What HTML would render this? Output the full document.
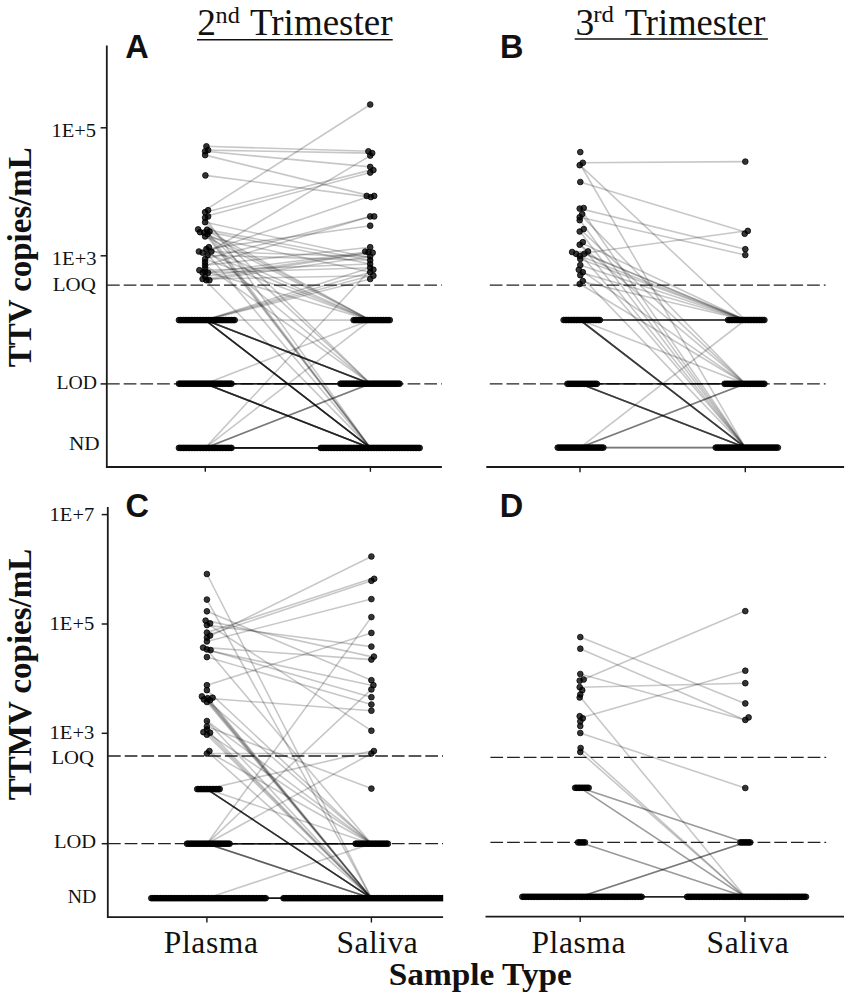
<!DOCTYPE html>
<html><head><meta charset="utf-8"><title>Figure</title>
<style>
html,body{margin:0;padding:0;background:#fff;}
body{width:851px;height:1000px;overflow:hidden;font-family:"Liberation Serif",serif;}
svg{display:block;}
text{fill:#111;}
</style></head><body>
<svg width="851" height="1000" viewBox="0 0 851 1000">
<rect width="851" height="1000" fill="#ffffff"/>
<g>
<line x1="106.8" y1="45.5" x2="106.8" y2="467.9" stroke="#1a1a1a" stroke-width="1.8"/>
<line x1="106" y1="467.0" x2="441.9" y2="467.0" stroke="#1a1a1a" stroke-width="1.8"/>
<line x1="205.3" y1="466.8" x2="205.3" y2="471.8" stroke="#1a1a1a" stroke-width="1.4"/>
<line x1="370.4" y1="466.8" x2="370.4" y2="471.8" stroke="#1a1a1a" stroke-width="1.4"/>
<line x1="100.6" y1="127.8" x2="106.8" y2="127.8" stroke="#1a1a1a" stroke-width="1.5"/>
<line x1="100.6" y1="255.8" x2="106.8" y2="255.8" stroke="#1a1a1a" stroke-width="1.5"/>
<line x1="100.6" y1="383.9" x2="106.8" y2="383.9" stroke="#1a1a1a" stroke-width="1.5"/>
<line x1="486.3" y1="467.0" x2="844.1" y2="467.0" stroke="#1a1a1a" stroke-width="1.8"/>
<line x1="580" y1="467.2" x2="580" y2="472.2" stroke="#1a1a1a" stroke-width="1.4"/>
<line x1="745.3" y1="467.2" x2="745.3" y2="472.2" stroke="#1a1a1a" stroke-width="1.4"/>
<line x1="107.8" y1="507.1" x2="107.8" y2="918.0" stroke="#1a1a1a" stroke-width="1.8"/>
<line x1="107" y1="917.1" x2="443.1" y2="917.1" stroke="#1a1a1a" stroke-width="1.8"/>
<line x1="206.9" y1="917.1" x2="206.9" y2="922.5" stroke="#1a1a1a" stroke-width="1.4"/>
<line x1="371.4" y1="917.1" x2="371.4" y2="922.5" stroke="#1a1a1a" stroke-width="1.4"/>
<line x1="101.7" y1="514.6" x2="107.8" y2="514.6" stroke="#1a1a1a" stroke-width="1.5"/>
<line x1="101.7" y1="624.0" x2="107.8" y2="624.0" stroke="#1a1a1a" stroke-width="1.5"/>
<line x1="101.7" y1="733.3" x2="107.8" y2="733.3" stroke="#1a1a1a" stroke-width="1.5"/>
<line x1="101.7" y1="843.7" x2="107.8" y2="843.7" stroke="#1a1a1a" stroke-width="1.5"/>
<line x1="485.5" y1="916.6" x2="844" y2="916.6" stroke="#1a1a1a" stroke-width="1.8"/>
<line x1="580.2" y1="916.6" x2="580.2" y2="922" stroke="#1a1a1a" stroke-width="1.4"/>
<line x1="745.0" y1="916.6" x2="745.0" y2="922" stroke="#1a1a1a" stroke-width="1.4"/>
<line x1="107" y1="285.1" x2="441.8" y2="285.1" stroke="#222" stroke-width="1.3" stroke-dasharray="12.7 4.0"/>
<line x1="107" y1="383.8" x2="441.8" y2="383.8" stroke="#222" stroke-width="1.3" stroke-dasharray="12.7 4.0"/>
<line x1="489.8" y1="285.2" x2="825.6" y2="285.2" stroke="#222" stroke-width="1.3" stroke-dasharray="12.7 4.0"/>
<line x1="489.8" y1="383.8" x2="825.6" y2="383.8" stroke="#222" stroke-width="1.3" stroke-dasharray="12.7 4.0"/>
<line x1="108" y1="756.0" x2="443" y2="756.0" stroke="#222" stroke-width="1.3" stroke-dasharray="12.7 4.0"/>
<line x1="108" y1="843.6" x2="443" y2="843.6" stroke="#222" stroke-width="1.3" stroke-dasharray="12.7 4.0"/>
<line x1="490.4" y1="757.3" x2="826.2" y2="757.3" stroke="#222" stroke-width="1.3" stroke-dasharray="12.7 4.0"/>
<line x1="490.4" y1="842.4" x2="826.2" y2="842.4" stroke="#222" stroke-width="1.3" stroke-dasharray="12.7 4.0"/>
<line x1="197.0" y1="39.7" x2="392.7" y2="39.7" stroke="#111" stroke-width="1.6"/>
<line x1="574.7" y1="39.0" x2="767.9" y2="39.0" stroke="#111" stroke-width="1.6"/>
</g>
<g stroke="#000" stroke-opacity="0.22" stroke-width="1.6" stroke-linecap="round">
<line x1="205.3" y1="210.2" x2="370.4" y2="104.5"/>
<line x1="205.3" y1="146.3" x2="370.4" y2="151.3"/>
<line x1="205.3" y1="150.1" x2="370.4" y2="153.1"/>
<line x1="205.3" y1="254.0" x2="370.4" y2="155.6"/>
<line x1="205.3" y1="151.3" x2="370.4" y2="166.9"/>
<line x1="205.3" y1="212.2" x2="370.4" y2="170.1"/>
<line x1="205.3" y1="216.4" x2="370.4" y2="172.6"/>
<line x1="205.3" y1="155.1" x2="370.4" y2="195.9"/>
<line x1="205.3" y1="175.4" x2="370.4" y2="197.1"/>
<line x1="205.3" y1="252.0" x2="370.4" y2="195.9"/>
<line x1="205.3" y1="259.0" x2="370.4" y2="216.4"/>
<line x1="205.3" y1="265.2" x2="370.4" y2="216.4"/>
<line x1="205.3" y1="249.0" x2="370.4" y2="225.7"/>
<line x1="205.3" y1="265.2" x2="370.4" y2="247.2"/>
<line x1="205.3" y1="272.7" x2="370.4" y2="251.5"/>
<line x1="205.3" y1="276.5" x2="370.4" y2="252.2"/>
<line x1="205.3" y1="279.0" x2="370.4" y2="252.7"/>
<line x1="205.3" y1="280.2" x2="370.4" y2="256.5"/>
<line x1="205.3" y1="229.4" x2="370.4" y2="260.2"/>
<line x1="205.3" y1="231.4" x2="370.4" y2="264.0"/>
<line x1="205.3" y1="236.4" x2="370.4" y2="272.2"/>
<line x1="205.3" y1="320.1" x2="370.4" y2="267.7"/>
<line x1="205.3" y1="447.9" x2="370.4" y2="269.7"/>
<line x1="205.3" y1="320.1" x2="370.4" y2="272.2"/>
<line x1="205.3" y1="320.1" x2="370.4" y2="275.7"/>
<line x1="205.3" y1="320.1" x2="370.4" y2="279.0"/>
<line x1="205.3" y1="217.7" x2="370.4" y2="447.9"/>
<line x1="205.3" y1="229.4" x2="370.4" y2="447.9"/>
<line x1="205.3" y1="232.2" x2="370.4" y2="447.9"/>
<line x1="205.3" y1="234.0" x2="370.4" y2="447.9"/>
<line x1="205.3" y1="251.5" x2="370.4" y2="447.9"/>
<line x1="205.3" y1="280.2" x2="370.4" y2="447.9"/>
<line x1="205.3" y1="231.4" x2="370.4" y2="383.7"/>
<line x1="205.3" y1="249.0" x2="370.4" y2="383.7"/>
<line x1="205.3" y1="265.2" x2="370.4" y2="383.7"/>
<line x1="205.3" y1="222.2" x2="370.4" y2="383.7"/>
<line x1="205.3" y1="229.7" x2="370.4" y2="320.1"/>
<line x1="205.3" y1="232.7" x2="370.4" y2="320.1"/>
<line x1="205.3" y1="236.4" x2="370.4" y2="320.1"/>
<line x1="205.3" y1="247.2" x2="370.4" y2="320.1"/>
<line x1="205.3" y1="252.7" x2="370.4" y2="320.1"/>
<line x1="205.3" y1="259.0" x2="370.4" y2="320.1"/>
<line x1="205.3" y1="271.5" x2="370.4" y2="320.1"/>
<line x1="205.3" y1="222.2" x2="370.4" y2="258.0"/>
<line x1="205.3" y1="270.2" x2="370.4" y2="264.0"/>
<line x1="205.3" y1="272.7" x2="370.4" y2="267.7"/>
<line x1="205.3" y1="279.0" x2="370.4" y2="275.7"/>
<line x1="205.3" y1="251.5" x2="370.4" y2="256.5"/>
<line x1="205.3" y1="255.2" x2="370.4" y2="260.2"/>
<line x1="205.3" y1="320.1" x2="370.4" y2="320.1"/>
<line x1="205.3" y1="320.1" x2="370.4" y2="383.7"/>
<line x1="205.3" y1="320.1" x2="370.4" y2="383.7"/>
<line x1="205.3" y1="320.1" x2="370.4" y2="383.7"/>
<line x1="205.3" y1="320.1" x2="370.4" y2="383.7"/>
<line x1="205.3" y1="320.1" x2="370.4" y2="383.7"/>
<line x1="205.3" y1="320.1" x2="370.4" y2="383.7"/>
<line x1="205.3" y1="320.1" x2="370.4" y2="383.7"/>
<line x1="205.3" y1="320.1" x2="370.4" y2="447.9"/>
<line x1="205.3" y1="320.1" x2="370.4" y2="447.9"/>
<line x1="205.3" y1="320.1" x2="370.4" y2="447.9"/>
<line x1="205.3" y1="320.1" x2="370.4" y2="447.9"/>
<line x1="205.3" y1="320.1" x2="370.4" y2="447.9"/>
<line x1="205.3" y1="320.1" x2="370.4" y2="447.9"/>
<line x1="205.3" y1="320.1" x2="370.4" y2="447.9"/>
<line x1="205.3" y1="320.1" x2="370.4" y2="447.9"/>
<line x1="205.3" y1="383.7" x2="370.4" y2="320.1"/>
<line x1="205.3" y1="383.7" x2="370.4" y2="383.7"/>
<line x1="205.3" y1="383.7" x2="370.4" y2="383.7"/>
<line x1="205.3" y1="383.7" x2="370.4" y2="383.7"/>
<line x1="205.3" y1="383.7" x2="370.4" y2="383.7"/>
<line x1="205.3" y1="383.7" x2="370.4" y2="383.7"/>
<line x1="205.3" y1="383.7" x2="370.4" y2="383.7"/>
<line x1="205.3" y1="383.7" x2="370.4" y2="383.7"/>
<line x1="205.3" y1="383.7" x2="370.4" y2="383.7"/>
<line x1="205.3" y1="383.7" x2="370.4" y2="447.9"/>
<line x1="205.3" y1="383.7" x2="370.4" y2="447.9"/>
<line x1="205.3" y1="383.7" x2="370.4" y2="447.9"/>
<line x1="205.3" y1="383.7" x2="370.4" y2="447.9"/>
<line x1="205.3" y1="383.7" x2="370.4" y2="447.9"/>
<line x1="205.3" y1="383.7" x2="370.4" y2="447.9"/>
<line x1="205.3" y1="383.7" x2="370.4" y2="447.9"/>
<line x1="205.3" y1="383.7" x2="370.4" y2="447.9"/>
<line x1="205.3" y1="447.9" x2="370.4" y2="320.1"/>
<line x1="205.3" y1="447.9" x2="370.4" y2="383.7"/>
<line x1="205.3" y1="447.9" x2="370.4" y2="383.7"/>
<line x1="205.3" y1="447.9" x2="370.4" y2="383.7"/>
<line x1="205.3" y1="447.9" x2="370.4" y2="447.9"/>
<line x1="205.3" y1="447.9" x2="370.4" y2="447.9"/>
<line x1="205.3" y1="447.9" x2="370.4" y2="447.9"/>
<line x1="205.3" y1="447.9" x2="370.4" y2="447.9"/>
<line x1="205.3" y1="447.9" x2="370.4" y2="447.9"/>
<line x1="205.3" y1="447.9" x2="370.4" y2="447.9"/>
<line x1="205.3" y1="447.9" x2="370.4" y2="447.9"/>
<line x1="205.3" y1="447.9" x2="370.4" y2="447.9"/>
<line x1="205.3" y1="447.9" x2="370.4" y2="447.9"/>
<line x1="205.3" y1="447.9" x2="370.4" y2="447.9"/>
<line x1="580.0" y1="162.8" x2="745.3" y2="161.6"/>
<line x1="580.0" y1="165.2" x2="745.3" y2="320.0"/>
<line x1="580.0" y1="164.0" x2="745.3" y2="447.6"/>
<line x1="580.0" y1="182.0" x2="745.3" y2="232.0"/>
<line x1="580.0" y1="208.6" x2="745.3" y2="249.2"/>
<line x1="580.0" y1="217.2" x2="745.3" y2="255.0"/>
<line x1="580.0" y1="253.8" x2="745.3" y2="231.0"/>
<line x1="580.0" y1="242.2" x2="745.3" y2="320.0"/>
<line x1="580.0" y1="251.4" x2="745.3" y2="320.0"/>
<line x1="580.0" y1="252.0" x2="745.3" y2="320.0"/>
<line x1="580.0" y1="256.0" x2="745.3" y2="320.0"/>
<line x1="580.0" y1="259.0" x2="745.3" y2="320.0"/>
<line x1="580.0" y1="265.1" x2="745.3" y2="320.0"/>
<line x1="580.0" y1="272.2" x2="745.3" y2="320.0"/>
<line x1="580.0" y1="281.0" x2="745.3" y2="320.0"/>
<line x1="580.0" y1="214.1" x2="745.3" y2="383.8"/>
<line x1="580.0" y1="229.1" x2="745.3" y2="383.8"/>
<line x1="580.0" y1="244.7" x2="745.3" y2="383.8"/>
<line x1="580.0" y1="269.7" x2="745.3" y2="383.8"/>
<line x1="580.0" y1="284.0" x2="745.3" y2="383.8"/>
<line x1="580.0" y1="208.0" x2="745.3" y2="447.6"/>
<line x1="580.0" y1="220.2" x2="745.3" y2="447.6"/>
<line x1="580.0" y1="231.5" x2="745.3" y2="447.6"/>
<line x1="580.0" y1="253.8" x2="745.3" y2="447.6"/>
<line x1="580.0" y1="275.2" x2="745.3" y2="447.6"/>
<line x1="580.0" y1="244.0" x2="745.3" y2="447.6"/>
<line x1="580.0" y1="320.0" x2="745.3" y2="320.0"/>
<line x1="580.0" y1="320.0" x2="745.3" y2="320.0"/>
<line x1="580.0" y1="320.0" x2="745.3" y2="320.0"/>
<line x1="580.0" y1="320.0" x2="745.3" y2="320.0"/>
<line x1="580.0" y1="320.0" x2="745.3" y2="320.0"/>
<line x1="580.0" y1="320.0" x2="745.3" y2="320.0"/>
<line x1="580.0" y1="320.0" x2="745.3" y2="320.0"/>
<line x1="580.0" y1="320.0" x2="745.3" y2="383.8"/>
<line x1="580.0" y1="320.0" x2="745.3" y2="447.6"/>
<line x1="580.0" y1="320.0" x2="745.3" y2="447.6"/>
<line x1="580.0" y1="320.0" x2="745.3" y2="447.6"/>
<line x1="580.0" y1="320.0" x2="745.3" y2="447.6"/>
<line x1="580.0" y1="320.0" x2="745.3" y2="447.6"/>
<line x1="580.0" y1="320.0" x2="745.3" y2="447.6"/>
<line x1="580.0" y1="383.8" x2="745.3" y2="383.8"/>
<line x1="580.0" y1="383.8" x2="745.3" y2="383.8"/>
<line x1="580.0" y1="383.8" x2="745.3" y2="383.8"/>
<line x1="580.0" y1="383.8" x2="745.3" y2="383.8"/>
<line x1="580.0" y1="383.8" x2="745.3" y2="383.8"/>
<line x1="580.0" y1="383.8" x2="745.3" y2="383.8"/>
<line x1="580.0" y1="383.8" x2="745.3" y2="383.8"/>
<line x1="580.0" y1="383.8" x2="745.3" y2="447.6"/>
<line x1="580.0" y1="383.8" x2="745.3" y2="447.6"/>
<line x1="580.0" y1="383.8" x2="745.3" y2="447.6"/>
<line x1="580.0" y1="383.8" x2="745.3" y2="447.6"/>
<line x1="580.0" y1="383.8" x2="745.3" y2="447.6"/>
<line x1="580.0" y1="383.8" x2="745.3" y2="447.6"/>
<line x1="580.0" y1="447.6" x2="745.3" y2="320.0"/>
<line x1="580.0" y1="447.6" x2="745.3" y2="383.8"/>
<line x1="580.0" y1="447.6" x2="745.3" y2="383.8"/>
<line x1="580.0" y1="447.6" x2="745.3" y2="383.8"/>
<line x1="580.0" y1="447.6" x2="745.3" y2="447.6"/>
<line x1="580.0" y1="447.6" x2="745.3" y2="447.6"/>
<line x1="580.0" y1="447.6" x2="745.3" y2="447.6"/>
<line x1="206.9" y1="637.6" x2="371.4" y2="556.5"/>
<line x1="206.9" y1="632.6" x2="371.4" y2="578.8"/>
<line x1="206.9" y1="635.6" x2="371.4" y2="580.8"/>
<line x1="206.9" y1="641.4" x2="371.4" y2="599.1"/>
<line x1="206.9" y1="843.7" x2="371.4" y2="617.1"/>
<line x1="206.9" y1="685.2" x2="371.4" y2="632.9"/>
<line x1="206.9" y1="625.1" x2="371.4" y2="646.6"/>
<line x1="206.9" y1="620.6" x2="371.4" y2="656.6"/>
<line x1="206.9" y1="647.6" x2="371.4" y2="659.6"/>
<line x1="206.9" y1="611.3" x2="371.4" y2="680.2"/>
<line x1="206.9" y1="650.1" x2="371.4" y2="685.2"/>
<line x1="206.9" y1="843.7" x2="371.4" y2="689.4"/>
<line x1="206.9" y1="649.4" x2="371.4" y2="697.2"/>
<line x1="206.9" y1="657.1" x2="371.4" y2="704.5"/>
<line x1="206.9" y1="698.2" x2="371.4" y2="710.7"/>
<line x1="206.9" y1="623.4" x2="371.4" y2="730.7"/>
<line x1="206.9" y1="753.5" x2="371.4" y2="753.5"/>
<line x1="206.9" y1="789.1" x2="371.4" y2="751.0"/>
<line x1="206.9" y1="843.7" x2="371.4" y2="753.5"/>
<line x1="206.9" y1="726.5" x2="371.4" y2="788.6"/>
<line x1="206.9" y1="574.0" x2="371.4" y2="898.2"/>
<line x1="206.9" y1="599.6" x2="371.4" y2="898.2"/>
<line x1="206.9" y1="696.4" x2="371.4" y2="898.2"/>
<line x1="206.9" y1="699.4" x2="371.4" y2="898.2"/>
<line x1="206.9" y1="700.2" x2="371.4" y2="898.2"/>
<line x1="206.9" y1="702.0" x2="371.4" y2="898.2"/>
<line x1="206.9" y1="697.7" x2="371.4" y2="898.2"/>
<line x1="206.9" y1="721.0" x2="371.4" y2="898.2"/>
<line x1="206.9" y1="729.5" x2="371.4" y2="898.2"/>
<line x1="206.9" y1="732.2" x2="371.4" y2="898.2"/>
<line x1="206.9" y1="734.7" x2="371.4" y2="898.2"/>
<line x1="206.9" y1="751.0" x2="371.4" y2="898.2"/>
<line x1="206.9" y1="690.2" x2="371.4" y2="843.7"/>
<line x1="206.9" y1="732.7" x2="371.4" y2="843.7"/>
<line x1="206.9" y1="751.0" x2="371.4" y2="843.7"/>
<line x1="206.9" y1="721.0" x2="371.4" y2="843.7"/>
<line x1="206.9" y1="649.4" x2="371.4" y2="843.7"/>
<line x1="206.9" y1="700.2" x2="371.4" y2="843.7"/>
<line x1="206.9" y1="789.1" x2="371.4" y2="898.2"/>
<line x1="206.9" y1="789.1" x2="371.4" y2="898.2"/>
<line x1="206.9" y1="789.1" x2="371.4" y2="898.2"/>
<line x1="206.9" y1="789.1" x2="371.4" y2="898.2"/>
<line x1="206.9" y1="789.1" x2="371.4" y2="898.2"/>
<line x1="206.9" y1="789.1" x2="371.4" y2="898.2"/>
<line x1="206.9" y1="789.1" x2="371.4" y2="898.2"/>
<line x1="206.9" y1="789.1" x2="371.4" y2="843.7"/>
<line x1="206.9" y1="843.7" x2="371.4" y2="843.7"/>
<line x1="206.9" y1="843.7" x2="371.4" y2="843.7"/>
<line x1="206.9" y1="843.7" x2="371.4" y2="843.7"/>
<line x1="206.9" y1="843.7" x2="371.4" y2="843.7"/>
<line x1="206.9" y1="843.7" x2="371.4" y2="843.7"/>
<line x1="206.9" y1="843.7" x2="371.4" y2="843.7"/>
<line x1="206.9" y1="843.7" x2="371.4" y2="843.7"/>
<line x1="206.9" y1="843.7" x2="371.4" y2="843.7"/>
<line x1="206.9" y1="843.7" x2="371.4" y2="898.2"/>
<line x1="206.9" y1="843.7" x2="371.4" y2="898.2"/>
<line x1="206.9" y1="843.7" x2="371.4" y2="898.2"/>
<line x1="206.9" y1="843.7" x2="371.4" y2="898.2"/>
<line x1="206.9" y1="898.2" x2="371.4" y2="843.7"/>
<line x1="206.9" y1="898.2" x2="371.4" y2="898.2"/>
<line x1="206.9" y1="898.2" x2="371.4" y2="898.2"/>
<line x1="206.9" y1="898.2" x2="371.4" y2="898.2"/>
<line x1="206.9" y1="898.2" x2="371.4" y2="898.2"/>
<line x1="206.9" y1="898.2" x2="371.4" y2="898.2"/>
<line x1="206.9" y1="898.2" x2="371.4" y2="898.2"/>
<line x1="206.9" y1="898.2" x2="371.4" y2="898.2"/>
<line x1="206.9" y1="898.2" x2="371.4" y2="898.2"/>
<line x1="206.9" y1="898.2" x2="371.4" y2="898.2"/>
<line x1="206.9" y1="898.2" x2="371.4" y2="898.2"/>
<line x1="580.2" y1="637.1" x2="745.0" y2="703.4"/>
<line x1="580.2" y1="648.7" x2="745.0" y2="719.9"/>
<line x1="580.2" y1="674.0" x2="745.0" y2="719.9"/>
<line x1="580.2" y1="680.7" x2="745.0" y2="611.1"/>
<line x1="580.2" y1="687.2" x2="745.0" y2="683.2"/>
<line x1="580.2" y1="697.0" x2="745.0" y2="896.8"/>
<line x1="580.2" y1="718.0" x2="745.0" y2="670.7"/>
<line x1="580.2" y1="733.0" x2="745.0" y2="788.0"/>
<line x1="580.2" y1="748.0" x2="745.0" y2="896.8"/>
<line x1="580.2" y1="752.0" x2="745.0" y2="896.8"/>
<line x1="580.2" y1="787.8" x2="745.0" y2="842.4"/>
<line x1="580.2" y1="787.8" x2="745.0" y2="842.4"/>
<line x1="580.2" y1="787.8" x2="745.0" y2="896.8"/>
<line x1="580.2" y1="787.8" x2="745.0" y2="896.8"/>
<line x1="580.2" y1="842.4" x2="745.0" y2="896.8"/>
<line x1="580.2" y1="842.4" x2="745.0" y2="896.8"/>
<line x1="580.2" y1="896.8" x2="745.0" y2="842.4"/>
<line x1="580.2" y1="896.8" x2="745.0" y2="842.4"/>
<line x1="580.2" y1="896.8" x2="745.0" y2="842.4"/>
<line x1="580.2" y1="896.8" x2="745.0" y2="896.8"/>
<line x1="580.2" y1="896.8" x2="745.0" y2="896.8"/>
<line x1="580.2" y1="896.8" x2="745.0" y2="896.8"/>
<line x1="580.2" y1="896.8" x2="745.0" y2="896.8"/>
<line x1="580.2" y1="896.8" x2="745.0" y2="896.8"/>
<line x1="580.2" y1="896.8" x2="745.0" y2="896.8"/>
<line x1="580.2" y1="896.8" x2="745.0" y2="896.8"/>
<line x1="580.2" y1="896.8" x2="745.0" y2="896.8"/>
</g>
<g fill="#000" fill-opacity="0.78" stroke="#000" stroke-opacity="0.85" stroke-width="0.9">
<circle cx="206.4" cy="146.3" r="2.85"/>
<circle cx="208.1" cy="150.1" r="2.85"/>
<circle cx="205.1" cy="151.3" r="2.85"/>
<circle cx="205.1" cy="155.1" r="2.85"/>
<circle cx="205.4" cy="175.4" r="2.85"/>
<circle cx="208.1" cy="210.2" r="2.85"/>
<circle cx="205.1" cy="212.2" r="2.85"/>
<circle cx="208.1" cy="216.4" r="2.85"/>
<circle cx="205.1" cy="217.7" r="2.85"/>
<circle cx="205.1" cy="222.2" r="2.85"/>
<circle cx="198.1" cy="229.4" r="2.85"/>
<circle cx="200.1" cy="232.2" r="2.85"/>
<circle cx="203.9" cy="232.7" r="2.85"/>
<circle cx="207.1" cy="229.7" r="2.85"/>
<circle cx="209.6" cy="231.4" r="2.85"/>
<circle cx="207.6" cy="234.0" r="2.85"/>
<circle cx="205.1" cy="236.4" r="2.85"/>
<circle cx="198.9" cy="251.5" r="2.85"/>
<circle cx="202.6" cy="252.7" r="2.85"/>
<circle cx="206.4" cy="249.0" r="2.85"/>
<circle cx="208.9" cy="247.2" r="2.85"/>
<circle cx="211.4" cy="251.5" r="2.85"/>
<circle cx="207.6" cy="255.2" r="2.85"/>
<circle cx="205.1" cy="259.0" r="2.85"/>
<circle cx="205.1" cy="262.2" r="2.85"/>
<circle cx="205.1" cy="265.2" r="2.85"/>
<circle cx="205.1" cy="268.3" r="2.85"/>
<circle cx="199.4" cy="270.2" r="2.85"/>
<circle cx="202.6" cy="272.7" r="2.85"/>
<circle cx="205.1" cy="271.5" r="2.85"/>
<circle cx="208.1" cy="272.7" r="2.85"/>
<circle cx="205.1" cy="276.5" r="2.85"/>
<circle cx="202.6" cy="279.0" r="2.85"/>
<circle cx="206.4" cy="280.2" r="2.85"/>
<circle cx="209.4" cy="280.2" r="2.85"/>
<circle cx="370.2" cy="104.5" r="2.85"/>
<circle cx="368.4" cy="151.3" r="2.85"/>
<circle cx="372.2" cy="153.1" r="2.85"/>
<circle cx="370.2" cy="155.6" r="2.85"/>
<circle cx="370.2" cy="166.9" r="2.85"/>
<circle cx="373.4" cy="170.1" r="2.85"/>
<circle cx="370.2" cy="172.6" r="2.85"/>
<circle cx="366.7" cy="195.9" r="2.85"/>
<circle cx="370.9" cy="197.1" r="2.85"/>
<circle cx="374.2" cy="195.9" r="2.85"/>
<circle cx="370.2" cy="216.4" r="2.85"/>
<circle cx="374.2" cy="216.4" r="2.85"/>
<circle cx="370.2" cy="225.7" r="2.85"/>
<circle cx="370.2" cy="247.2" r="2.85"/>
<circle cx="365.2" cy="251.5" r="2.85"/>
<circle cx="368.4" cy="252.2" r="2.85"/>
<circle cx="372.7" cy="252.7" r="2.85"/>
<circle cx="370.2" cy="256.5" r="2.85"/>
<circle cx="370.2" cy="260.2" r="2.85"/>
<circle cx="370.2" cy="264.0" r="2.85"/>
<circle cx="370.2" cy="267.7" r="2.85"/>
<circle cx="373.4" cy="269.7" r="2.85"/>
<circle cx="370.2" cy="272.2" r="2.85"/>
<circle cx="373.4" cy="275.7" r="2.85"/>
<circle cx="370.2" cy="279.0" r="2.85"/>
<circle cx="178.9" cy="320.1" r="2.85"/>
<circle cx="180.5" cy="320.1" r="2.85"/>
<circle cx="182.0" cy="320.1" r="2.85"/>
<circle cx="183.6" cy="320.1" r="2.85"/>
<circle cx="185.1" cy="320.1" r="2.85"/>
<circle cx="186.7" cy="320.1" r="2.85"/>
<circle cx="188.2" cy="320.1" r="2.85"/>
<circle cx="189.8" cy="320.1" r="2.85"/>
<circle cx="191.3" cy="320.1" r="2.85"/>
<circle cx="192.8" cy="320.1" r="2.85"/>
<circle cx="194.4" cy="320.1" r="2.85"/>
<circle cx="195.9" cy="320.1" r="2.85"/>
<circle cx="197.5" cy="320.1" r="2.85"/>
<circle cx="199.1" cy="320.1" r="2.85"/>
<circle cx="200.6" cy="320.1" r="2.85"/>
<circle cx="202.2" cy="320.1" r="2.85"/>
<circle cx="203.7" cy="320.1" r="2.85"/>
<circle cx="205.2" cy="320.1" r="2.85"/>
<circle cx="206.8" cy="320.1" r="2.85"/>
<circle cx="208.3" cy="320.1" r="2.85"/>
<circle cx="209.9" cy="320.1" r="2.85"/>
<circle cx="211.4" cy="320.1" r="2.85"/>
<circle cx="213.0" cy="320.1" r="2.85"/>
<circle cx="214.6" cy="320.1" r="2.85"/>
<circle cx="216.1" cy="320.1" r="2.85"/>
<circle cx="217.6" cy="320.1" r="2.85"/>
<circle cx="219.2" cy="320.1" r="2.85"/>
<circle cx="220.8" cy="320.1" r="2.85"/>
<circle cx="222.3" cy="320.1" r="2.85"/>
<circle cx="223.8" cy="320.1" r="2.85"/>
<circle cx="225.4" cy="320.1" r="2.85"/>
<circle cx="226.9" cy="320.1" r="2.85"/>
<circle cx="228.5" cy="320.1" r="2.85"/>
<circle cx="230.0" cy="320.1" r="2.85"/>
<circle cx="231.6" cy="320.1" r="2.85"/>
<circle cx="233.1" cy="320.1" r="2.85"/>
<circle cx="234.7" cy="320.1" r="2.85"/>
<circle cx="178.9" cy="383.7" r="2.85"/>
<circle cx="180.4" cy="383.7" r="2.85"/>
<circle cx="182.0" cy="383.7" r="2.85"/>
<circle cx="183.5" cy="383.7" r="2.85"/>
<circle cx="185.1" cy="383.7" r="2.85"/>
<circle cx="186.6" cy="383.7" r="2.85"/>
<circle cx="188.2" cy="383.7" r="2.85"/>
<circle cx="189.7" cy="383.7" r="2.85"/>
<circle cx="191.3" cy="383.7" r="2.85"/>
<circle cx="192.8" cy="383.7" r="2.85"/>
<circle cx="194.4" cy="383.7" r="2.85"/>
<circle cx="195.9" cy="383.7" r="2.85"/>
<circle cx="197.5" cy="383.7" r="2.85"/>
<circle cx="199.0" cy="383.7" r="2.85"/>
<circle cx="200.6" cy="383.7" r="2.85"/>
<circle cx="202.1" cy="383.7" r="2.85"/>
<circle cx="203.7" cy="383.7" r="2.85"/>
<circle cx="205.2" cy="383.7" r="2.85"/>
<circle cx="206.7" cy="383.7" r="2.85"/>
<circle cx="208.3" cy="383.7" r="2.85"/>
<circle cx="209.8" cy="383.7" r="2.85"/>
<circle cx="211.4" cy="383.7" r="2.85"/>
<circle cx="212.9" cy="383.7" r="2.85"/>
<circle cx="214.5" cy="383.7" r="2.85"/>
<circle cx="216.0" cy="383.7" r="2.85"/>
<circle cx="217.6" cy="383.7" r="2.85"/>
<circle cx="219.1" cy="383.7" r="2.85"/>
<circle cx="220.7" cy="383.7" r="2.85"/>
<circle cx="222.2" cy="383.7" r="2.85"/>
<circle cx="223.8" cy="383.7" r="2.85"/>
<circle cx="225.3" cy="383.7" r="2.85"/>
<circle cx="226.9" cy="383.7" r="2.85"/>
<circle cx="228.4" cy="383.7" r="2.85"/>
<circle cx="230.0" cy="383.7" r="2.85"/>
<circle cx="231.5" cy="383.7" r="2.85"/>
<circle cx="178.9" cy="447.9" r="2.85"/>
<circle cx="180.4" cy="447.9" r="2.85"/>
<circle cx="182.0" cy="447.9" r="2.85"/>
<circle cx="183.5" cy="447.9" r="2.85"/>
<circle cx="185.1" cy="447.9" r="2.85"/>
<circle cx="186.6" cy="447.9" r="2.85"/>
<circle cx="188.2" cy="447.9" r="2.85"/>
<circle cx="189.7" cy="447.9" r="2.85"/>
<circle cx="191.3" cy="447.9" r="2.85"/>
<circle cx="192.8" cy="447.9" r="2.85"/>
<circle cx="194.4" cy="447.9" r="2.85"/>
<circle cx="195.9" cy="447.9" r="2.85"/>
<circle cx="197.5" cy="447.9" r="2.85"/>
<circle cx="199.0" cy="447.9" r="2.85"/>
<circle cx="200.6" cy="447.9" r="2.85"/>
<circle cx="202.1" cy="447.9" r="2.85"/>
<circle cx="203.7" cy="447.9" r="2.85"/>
<circle cx="205.2" cy="447.9" r="2.85"/>
<circle cx="206.7" cy="447.9" r="2.85"/>
<circle cx="208.3" cy="447.9" r="2.85"/>
<circle cx="209.8" cy="447.9" r="2.85"/>
<circle cx="211.4" cy="447.9" r="2.85"/>
<circle cx="212.9" cy="447.9" r="2.85"/>
<circle cx="214.5" cy="447.9" r="2.85"/>
<circle cx="216.0" cy="447.9" r="2.85"/>
<circle cx="217.6" cy="447.9" r="2.85"/>
<circle cx="219.1" cy="447.9" r="2.85"/>
<circle cx="220.7" cy="447.9" r="2.85"/>
<circle cx="222.2" cy="447.9" r="2.85"/>
<circle cx="223.8" cy="447.9" r="2.85"/>
<circle cx="225.3" cy="447.9" r="2.85"/>
<circle cx="226.9" cy="447.9" r="2.85"/>
<circle cx="228.4" cy="447.9" r="2.85"/>
<circle cx="230.0" cy="447.9" r="2.85"/>
<circle cx="231.5" cy="447.9" r="2.85"/>
<circle cx="353.6" cy="320.1" r="2.85"/>
<circle cx="355.2" cy="320.1" r="2.85"/>
<circle cx="356.7" cy="320.1" r="2.85"/>
<circle cx="358.3" cy="320.1" r="2.85"/>
<circle cx="359.9" cy="320.1" r="2.85"/>
<circle cx="361.5" cy="320.1" r="2.85"/>
<circle cx="363.0" cy="320.1" r="2.85"/>
<circle cx="364.6" cy="320.1" r="2.85"/>
<circle cx="366.2" cy="320.1" r="2.85"/>
<circle cx="367.8" cy="320.1" r="2.85"/>
<circle cx="369.3" cy="320.1" r="2.85"/>
<circle cx="370.9" cy="320.1" r="2.85"/>
<circle cx="372.5" cy="320.1" r="2.85"/>
<circle cx="374.1" cy="320.1" r="2.85"/>
<circle cx="375.6" cy="320.1" r="2.85"/>
<circle cx="377.2" cy="320.1" r="2.85"/>
<circle cx="378.8" cy="320.1" r="2.85"/>
<circle cx="380.4" cy="320.1" r="2.85"/>
<circle cx="381.9" cy="320.1" r="2.85"/>
<circle cx="383.5" cy="320.1" r="2.85"/>
<circle cx="385.1" cy="320.1" r="2.85"/>
<circle cx="386.7" cy="320.1" r="2.85"/>
<circle cx="388.2" cy="320.1" r="2.85"/>
<circle cx="389.8" cy="320.1" r="2.85"/>
<circle cx="340.4" cy="383.7" r="2.85"/>
<circle cx="342.0" cy="383.7" r="2.85"/>
<circle cx="343.5" cy="383.7" r="2.85"/>
<circle cx="345.1" cy="383.7" r="2.85"/>
<circle cx="346.6" cy="383.7" r="2.85"/>
<circle cx="348.2" cy="383.7" r="2.85"/>
<circle cx="349.7" cy="383.7" r="2.85"/>
<circle cx="351.3" cy="383.7" r="2.85"/>
<circle cx="352.9" cy="383.7" r="2.85"/>
<circle cx="354.4" cy="383.7" r="2.85"/>
<circle cx="356.0" cy="383.7" r="2.85"/>
<circle cx="357.5" cy="383.7" r="2.85"/>
<circle cx="359.1" cy="383.7" r="2.85"/>
<circle cx="360.7" cy="383.7" r="2.85"/>
<circle cx="362.2" cy="383.7" r="2.85"/>
<circle cx="363.8" cy="383.7" r="2.85"/>
<circle cx="365.3" cy="383.7" r="2.85"/>
<circle cx="366.9" cy="383.7" r="2.85"/>
<circle cx="368.4" cy="383.7" r="2.85"/>
<circle cx="370.0" cy="383.7" r="2.85"/>
<circle cx="371.6" cy="383.7" r="2.85"/>
<circle cx="373.1" cy="383.7" r="2.85"/>
<circle cx="374.7" cy="383.7" r="2.85"/>
<circle cx="376.2" cy="383.7" r="2.85"/>
<circle cx="377.8" cy="383.7" r="2.85"/>
<circle cx="379.3" cy="383.7" r="2.85"/>
<circle cx="380.9" cy="383.7" r="2.85"/>
<circle cx="382.5" cy="383.7" r="2.85"/>
<circle cx="384.0" cy="383.7" r="2.85"/>
<circle cx="385.6" cy="383.7" r="2.85"/>
<circle cx="387.1" cy="383.7" r="2.85"/>
<circle cx="388.7" cy="383.7" r="2.85"/>
<circle cx="390.3" cy="383.7" r="2.85"/>
<circle cx="391.8" cy="383.7" r="2.85"/>
<circle cx="393.4" cy="383.7" r="2.85"/>
<circle cx="394.9" cy="383.7" r="2.85"/>
<circle cx="396.5" cy="383.7" r="2.85"/>
<circle cx="398.0" cy="383.7" r="2.85"/>
<circle cx="399.6" cy="383.7" r="2.85"/>
<circle cx="320.7" cy="447.9" r="2.85"/>
<circle cx="322.2" cy="447.9" r="2.85"/>
<circle cx="323.8" cy="447.9" r="2.85"/>
<circle cx="325.3" cy="447.9" r="2.85"/>
<circle cx="326.9" cy="447.9" r="2.85"/>
<circle cx="328.4" cy="447.9" r="2.85"/>
<circle cx="330.0" cy="447.9" r="2.85"/>
<circle cx="331.5" cy="447.9" r="2.85"/>
<circle cx="333.1" cy="447.9" r="2.85"/>
<circle cx="334.6" cy="447.9" r="2.85"/>
<circle cx="336.2" cy="447.9" r="2.85"/>
<circle cx="337.7" cy="447.9" r="2.85"/>
<circle cx="339.3" cy="447.9" r="2.85"/>
<circle cx="340.8" cy="447.9" r="2.85"/>
<circle cx="342.4" cy="447.9" r="2.85"/>
<circle cx="343.9" cy="447.9" r="2.85"/>
<circle cx="345.4" cy="447.9" r="2.85"/>
<circle cx="347.0" cy="447.9" r="2.85"/>
<circle cx="348.5" cy="447.9" r="2.85"/>
<circle cx="350.1" cy="447.9" r="2.85"/>
<circle cx="351.6" cy="447.9" r="2.85"/>
<circle cx="353.2" cy="447.9" r="2.85"/>
<circle cx="354.7" cy="447.9" r="2.85"/>
<circle cx="356.3" cy="447.9" r="2.85"/>
<circle cx="357.8" cy="447.9" r="2.85"/>
<circle cx="359.4" cy="447.9" r="2.85"/>
<circle cx="360.9" cy="447.9" r="2.85"/>
<circle cx="362.5" cy="447.9" r="2.85"/>
<circle cx="364.0" cy="447.9" r="2.85"/>
<circle cx="365.6" cy="447.9" r="2.85"/>
<circle cx="367.1" cy="447.9" r="2.85"/>
<circle cx="368.7" cy="447.9" r="2.85"/>
<circle cx="370.2" cy="447.9" r="2.85"/>
<circle cx="371.7" cy="447.9" r="2.85"/>
<circle cx="373.3" cy="447.9" r="2.85"/>
<circle cx="374.8" cy="447.9" r="2.85"/>
<circle cx="376.4" cy="447.9" r="2.85"/>
<circle cx="377.9" cy="447.9" r="2.85"/>
<circle cx="379.5" cy="447.9" r="2.85"/>
<circle cx="381.0" cy="447.9" r="2.85"/>
<circle cx="382.6" cy="447.9" r="2.85"/>
<circle cx="384.1" cy="447.9" r="2.85"/>
<circle cx="385.7" cy="447.9" r="2.85"/>
<circle cx="387.2" cy="447.9" r="2.85"/>
<circle cx="388.8" cy="447.9" r="2.85"/>
<circle cx="390.3" cy="447.9" r="2.85"/>
<circle cx="391.9" cy="447.9" r="2.85"/>
<circle cx="393.4" cy="447.9" r="2.85"/>
<circle cx="394.9" cy="447.9" r="2.85"/>
<circle cx="396.5" cy="447.9" r="2.85"/>
<circle cx="398.0" cy="447.9" r="2.85"/>
<circle cx="399.6" cy="447.9" r="2.85"/>
<circle cx="401.1" cy="447.9" r="2.85"/>
<circle cx="402.7" cy="447.9" r="2.85"/>
<circle cx="404.2" cy="447.9" r="2.85"/>
<circle cx="405.8" cy="447.9" r="2.85"/>
<circle cx="407.3" cy="447.9" r="2.85"/>
<circle cx="408.9" cy="447.9" r="2.85"/>
<circle cx="410.4" cy="447.9" r="2.85"/>
<circle cx="412.0" cy="447.9" r="2.85"/>
<circle cx="413.5" cy="447.9" r="2.85"/>
<circle cx="415.1" cy="447.9" r="2.85"/>
<circle cx="416.6" cy="447.9" r="2.85"/>
<circle cx="418.2" cy="447.9" r="2.85"/>
<circle cx="419.7" cy="447.9" r="2.85"/>
<circle cx="580.3" cy="152.1" r="2.85"/>
<circle cx="582.8" cy="162.8" r="2.85"/>
<circle cx="579.7" cy="165.2" r="2.85"/>
<circle cx="580.3" cy="182.0" r="2.85"/>
<circle cx="579.7" cy="208.6" r="2.85"/>
<circle cx="583.7" cy="208.0" r="2.85"/>
<circle cx="582.2" cy="214.1" r="2.85"/>
<circle cx="579.7" cy="217.2" r="2.85"/>
<circle cx="579.7" cy="220.2" r="2.85"/>
<circle cx="579.7" cy="231.5" r="2.85"/>
<circle cx="583.7" cy="229.1" r="2.85"/>
<circle cx="579.7" cy="244.7" r="2.85"/>
<circle cx="582.8" cy="242.2" r="2.85"/>
<circle cx="572.1" cy="252.0" r="2.85"/>
<circle cx="576.1" cy="253.8" r="2.85"/>
<circle cx="579.7" cy="256.0" r="2.85"/>
<circle cx="584.3" cy="253.8" r="2.85"/>
<circle cx="588.0" cy="251.4" r="2.85"/>
<circle cx="580.3" cy="259.0" r="2.85"/>
<circle cx="580.3" cy="265.1" r="2.85"/>
<circle cx="578.8" cy="269.7" r="2.85"/>
<circle cx="582.8" cy="272.2" r="2.85"/>
<circle cx="580.3" cy="275.2" r="2.85"/>
<circle cx="582.8" cy="281.0" r="2.85"/>
<circle cx="579.7" cy="284.0" r="2.85"/>
<circle cx="745.3" cy="161.6" r="2.85"/>
<circle cx="747.8" cy="230.9" r="2.85"/>
<circle cx="744.7" cy="233.7" r="2.85"/>
<circle cx="745.3" cy="249.2" r="2.85"/>
<circle cx="745.3" cy="255.0" r="2.85"/>
<circle cx="563.6" cy="320.0" r="2.85"/>
<circle cx="565.2" cy="320.0" r="2.85"/>
<circle cx="566.8" cy="320.0" r="2.85"/>
<circle cx="568.3" cy="320.0" r="2.85"/>
<circle cx="569.9" cy="320.0" r="2.85"/>
<circle cx="571.5" cy="320.0" r="2.85"/>
<circle cx="573.1" cy="320.0" r="2.85"/>
<circle cx="574.6" cy="320.0" r="2.85"/>
<circle cx="576.2" cy="320.0" r="2.85"/>
<circle cx="577.8" cy="320.0" r="2.85"/>
<circle cx="579.4" cy="320.0" r="2.85"/>
<circle cx="581.0" cy="320.0" r="2.85"/>
<circle cx="582.5" cy="320.0" r="2.85"/>
<circle cx="584.1" cy="320.0" r="2.85"/>
<circle cx="585.7" cy="320.0" r="2.85"/>
<circle cx="587.3" cy="320.0" r="2.85"/>
<circle cx="588.9" cy="320.0" r="2.85"/>
<circle cx="590.4" cy="320.0" r="2.85"/>
<circle cx="592.0" cy="320.0" r="2.85"/>
<circle cx="593.6" cy="320.0" r="2.85"/>
<circle cx="595.2" cy="320.0" r="2.85"/>
<circle cx="596.7" cy="320.0" r="2.85"/>
<circle cx="598.3" cy="320.0" r="2.85"/>
<circle cx="599.9" cy="320.0" r="2.85"/>
<circle cx="567.4" cy="383.8" r="2.85"/>
<circle cx="569.0" cy="383.8" r="2.85"/>
<circle cx="570.5" cy="383.8" r="2.85"/>
<circle cx="572.1" cy="383.8" r="2.85"/>
<circle cx="573.6" cy="383.8" r="2.85"/>
<circle cx="575.2" cy="383.8" r="2.85"/>
<circle cx="576.7" cy="383.8" r="2.85"/>
<circle cx="578.3" cy="383.8" r="2.85"/>
<circle cx="579.8" cy="383.8" r="2.85"/>
<circle cx="581.4" cy="383.8" r="2.85"/>
<circle cx="582.9" cy="383.8" r="2.85"/>
<circle cx="584.5" cy="383.8" r="2.85"/>
<circle cx="586.0" cy="383.8" r="2.85"/>
<circle cx="587.6" cy="383.8" r="2.85"/>
<circle cx="589.1" cy="383.8" r="2.85"/>
<circle cx="590.7" cy="383.8" r="2.85"/>
<circle cx="592.2" cy="383.8" r="2.85"/>
<circle cx="593.8" cy="383.8" r="2.85"/>
<circle cx="595.3" cy="383.8" r="2.85"/>
<circle cx="596.9" cy="383.8" r="2.85"/>
<circle cx="557.7" cy="447.6" r="2.85"/>
<circle cx="559.3" cy="447.6" r="2.85"/>
<circle cx="560.9" cy="447.6" r="2.85"/>
<circle cx="562.4" cy="447.6" r="2.85"/>
<circle cx="564.0" cy="447.6" r="2.85"/>
<circle cx="565.6" cy="447.6" r="2.85"/>
<circle cx="567.2" cy="447.6" r="2.85"/>
<circle cx="568.7" cy="447.6" r="2.85"/>
<circle cx="570.3" cy="447.6" r="2.85"/>
<circle cx="571.9" cy="447.6" r="2.85"/>
<circle cx="573.5" cy="447.6" r="2.85"/>
<circle cx="575.0" cy="447.6" r="2.85"/>
<circle cx="576.6" cy="447.6" r="2.85"/>
<circle cx="578.2" cy="447.6" r="2.85"/>
<circle cx="579.8" cy="447.6" r="2.85"/>
<circle cx="581.3" cy="447.6" r="2.85"/>
<circle cx="582.9" cy="447.6" r="2.85"/>
<circle cx="584.5" cy="447.6" r="2.85"/>
<circle cx="586.1" cy="447.6" r="2.85"/>
<circle cx="587.6" cy="447.6" r="2.85"/>
<circle cx="589.2" cy="447.6" r="2.85"/>
<circle cx="590.8" cy="447.6" r="2.85"/>
<circle cx="592.4" cy="447.6" r="2.85"/>
<circle cx="593.9" cy="447.6" r="2.85"/>
<circle cx="595.5" cy="447.6" r="2.85"/>
<circle cx="597.1" cy="447.6" r="2.85"/>
<circle cx="598.7" cy="447.6" r="2.85"/>
<circle cx="600.2" cy="447.6" r="2.85"/>
<circle cx="601.8" cy="447.6" r="2.85"/>
<circle cx="603.4" cy="447.6" r="2.85"/>
<circle cx="728.1" cy="320.0" r="2.85"/>
<circle cx="729.7" cy="320.0" r="2.85"/>
<circle cx="731.3" cy="320.0" r="2.85"/>
<circle cx="732.8" cy="320.0" r="2.85"/>
<circle cx="734.4" cy="320.0" r="2.85"/>
<circle cx="736.0" cy="320.0" r="2.85"/>
<circle cx="737.6" cy="320.0" r="2.85"/>
<circle cx="739.1" cy="320.0" r="2.85"/>
<circle cx="740.7" cy="320.0" r="2.85"/>
<circle cx="742.3" cy="320.0" r="2.85"/>
<circle cx="743.9" cy="320.0" r="2.85"/>
<circle cx="745.5" cy="320.0" r="2.85"/>
<circle cx="747.0" cy="320.0" r="2.85"/>
<circle cx="748.6" cy="320.0" r="2.85"/>
<circle cx="750.2" cy="320.0" r="2.85"/>
<circle cx="751.8" cy="320.0" r="2.85"/>
<circle cx="753.4" cy="320.0" r="2.85"/>
<circle cx="754.9" cy="320.0" r="2.85"/>
<circle cx="756.5" cy="320.0" r="2.85"/>
<circle cx="758.1" cy="320.0" r="2.85"/>
<circle cx="759.7" cy="320.0" r="2.85"/>
<circle cx="761.2" cy="320.0" r="2.85"/>
<circle cx="762.8" cy="320.0" r="2.85"/>
<circle cx="764.4" cy="320.0" r="2.85"/>
<circle cx="724.6" cy="383.8" r="2.85"/>
<circle cx="726.1" cy="383.8" r="2.85"/>
<circle cx="727.7" cy="383.8" r="2.85"/>
<circle cx="729.2" cy="383.8" r="2.85"/>
<circle cx="730.7" cy="383.8" r="2.85"/>
<circle cx="732.3" cy="383.8" r="2.85"/>
<circle cx="733.8" cy="383.8" r="2.85"/>
<circle cx="735.3" cy="383.8" r="2.85"/>
<circle cx="736.8" cy="383.8" r="2.85"/>
<circle cx="738.4" cy="383.8" r="2.85"/>
<circle cx="739.9" cy="383.8" r="2.85"/>
<circle cx="741.4" cy="383.8" r="2.85"/>
<circle cx="743.0" cy="383.8" r="2.85"/>
<circle cx="744.5" cy="383.8" r="2.85"/>
<circle cx="746.0" cy="383.8" r="2.85"/>
<circle cx="747.6" cy="383.8" r="2.85"/>
<circle cx="749.1" cy="383.8" r="2.85"/>
<circle cx="750.6" cy="383.8" r="2.85"/>
<circle cx="752.2" cy="383.8" r="2.85"/>
<circle cx="753.7" cy="383.8" r="2.85"/>
<circle cx="755.2" cy="383.8" r="2.85"/>
<circle cx="756.7" cy="383.8" r="2.85"/>
<circle cx="758.3" cy="383.8" r="2.85"/>
<circle cx="759.8" cy="383.8" r="2.85"/>
<circle cx="761.3" cy="383.8" r="2.85"/>
<circle cx="762.9" cy="383.8" r="2.85"/>
<circle cx="764.4" cy="383.8" r="2.85"/>
<circle cx="715.7" cy="447.6" r="2.85"/>
<circle cx="717.3" cy="447.6" r="2.85"/>
<circle cx="718.8" cy="447.6" r="2.85"/>
<circle cx="720.4" cy="447.6" r="2.85"/>
<circle cx="721.9" cy="447.6" r="2.85"/>
<circle cx="723.5" cy="447.6" r="2.85"/>
<circle cx="725.0" cy="447.6" r="2.85"/>
<circle cx="726.6" cy="447.6" r="2.85"/>
<circle cx="728.1" cy="447.6" r="2.85"/>
<circle cx="729.7" cy="447.6" r="2.85"/>
<circle cx="731.2" cy="447.6" r="2.85"/>
<circle cx="732.8" cy="447.6" r="2.85"/>
<circle cx="734.4" cy="447.6" r="2.85"/>
<circle cx="735.9" cy="447.6" r="2.85"/>
<circle cx="737.5" cy="447.6" r="2.85"/>
<circle cx="739.0" cy="447.6" r="2.85"/>
<circle cx="740.6" cy="447.6" r="2.85"/>
<circle cx="742.1" cy="447.6" r="2.85"/>
<circle cx="743.7" cy="447.6" r="2.85"/>
<circle cx="745.2" cy="447.6" r="2.85"/>
<circle cx="746.8" cy="447.6" r="2.85"/>
<circle cx="748.4" cy="447.6" r="2.85"/>
<circle cx="749.9" cy="447.6" r="2.85"/>
<circle cx="751.5" cy="447.6" r="2.85"/>
<circle cx="753.0" cy="447.6" r="2.85"/>
<circle cx="754.6" cy="447.6" r="2.85"/>
<circle cx="756.1" cy="447.6" r="2.85"/>
<circle cx="757.7" cy="447.6" r="2.85"/>
<circle cx="759.2" cy="447.6" r="2.85"/>
<circle cx="760.8" cy="447.6" r="2.85"/>
<circle cx="762.4" cy="447.6" r="2.85"/>
<circle cx="763.9" cy="447.6" r="2.85"/>
<circle cx="765.5" cy="447.6" r="2.85"/>
<circle cx="767.0" cy="447.6" r="2.85"/>
<circle cx="768.6" cy="447.6" r="2.85"/>
<circle cx="770.1" cy="447.6" r="2.85"/>
<circle cx="771.7" cy="447.6" r="2.85"/>
<circle cx="773.2" cy="447.6" r="2.85"/>
<circle cx="774.8" cy="447.6" r="2.85"/>
<circle cx="776.3" cy="447.6" r="2.85"/>
<circle cx="777.9" cy="447.6" r="2.85"/>
<circle cx="206.9" cy="574.0" r="2.85"/>
<circle cx="206.9" cy="599.6" r="2.85"/>
<circle cx="206.9" cy="611.3" r="2.85"/>
<circle cx="205.6" cy="620.6" r="2.85"/>
<circle cx="210.1" cy="623.4" r="2.85"/>
<circle cx="206.9" cy="625.1" r="2.85"/>
<circle cx="206.9" cy="632.6" r="2.85"/>
<circle cx="210.1" cy="635.6" r="2.85"/>
<circle cx="206.9" cy="637.6" r="2.85"/>
<circle cx="206.9" cy="641.4" r="2.85"/>
<circle cx="203.1" cy="647.6" r="2.85"/>
<circle cx="206.9" cy="649.4" r="2.85"/>
<circle cx="210.6" cy="650.1" r="2.85"/>
<circle cx="206.9" cy="657.1" r="2.85"/>
<circle cx="206.9" cy="685.2" r="2.85"/>
<circle cx="206.9" cy="690.2" r="2.85"/>
<circle cx="201.9" cy="696.4" r="2.85"/>
<circle cx="203.9" cy="699.4" r="2.85"/>
<circle cx="206.9" cy="702.0" r="2.85"/>
<circle cx="210.1" cy="700.2" r="2.85"/>
<circle cx="212.6" cy="697.7" r="2.85"/>
<circle cx="207.6" cy="698.2" r="2.85"/>
<circle cx="206.9" cy="721.0" r="2.85"/>
<circle cx="206.9" cy="726.5" r="2.85"/>
<circle cx="206.9" cy="729.5" r="2.85"/>
<circle cx="203.4" cy="732.2" r="2.85"/>
<circle cx="206.9" cy="734.7" r="2.85"/>
<circle cx="210.1" cy="732.7" r="2.85"/>
<circle cx="209.4" cy="751.0" r="2.85"/>
<circle cx="206.9" cy="753.5" r="2.85"/>
<circle cx="371.4" cy="556.5" r="2.85"/>
<circle cx="374.2" cy="578.8" r="2.85"/>
<circle cx="371.4" cy="580.8" r="2.85"/>
<circle cx="371.4" cy="599.1" r="2.85"/>
<circle cx="371.4" cy="617.1" r="2.85"/>
<circle cx="371.4" cy="632.9" r="2.85"/>
<circle cx="371.4" cy="646.6" r="2.85"/>
<circle cx="373.9" cy="656.6" r="2.85"/>
<circle cx="371.4" cy="659.6" r="2.85"/>
<circle cx="371.4" cy="680.2" r="2.85"/>
<circle cx="373.4" cy="685.2" r="2.85"/>
<circle cx="371.4" cy="689.4" r="2.85"/>
<circle cx="371.4" cy="697.2" r="2.85"/>
<circle cx="371.4" cy="704.5" r="2.85"/>
<circle cx="371.4" cy="710.7" r="2.85"/>
<circle cx="371.4" cy="730.7" r="2.85"/>
<circle cx="373.9" cy="751.0" r="2.85"/>
<circle cx="371.4" cy="753.5" r="2.85"/>
<circle cx="371.4" cy="788.6" r="2.85"/>
<circle cx="197.2" cy="789.1" r="2.85"/>
<circle cx="198.7" cy="789.1" r="2.85"/>
<circle cx="200.2" cy="789.1" r="2.85"/>
<circle cx="201.7" cy="789.1" r="2.85"/>
<circle cx="203.2" cy="789.1" r="2.85"/>
<circle cx="204.7" cy="789.1" r="2.85"/>
<circle cx="206.2" cy="789.1" r="2.85"/>
<circle cx="207.7" cy="789.1" r="2.85"/>
<circle cx="209.2" cy="789.1" r="2.85"/>
<circle cx="210.7" cy="789.1" r="2.85"/>
<circle cx="212.2" cy="789.1" r="2.85"/>
<circle cx="213.7" cy="789.1" r="2.85"/>
<circle cx="215.2" cy="789.1" r="2.85"/>
<circle cx="216.7" cy="789.1" r="2.85"/>
<circle cx="218.2" cy="789.1" r="2.85"/>
<circle cx="219.7" cy="789.1" r="2.85"/>
<circle cx="187.0" cy="843.7" r="2.85"/>
<circle cx="188.6" cy="843.7" r="2.85"/>
<circle cx="190.2" cy="843.7" r="2.85"/>
<circle cx="191.7" cy="843.7" r="2.85"/>
<circle cx="193.3" cy="843.7" r="2.85"/>
<circle cx="194.9" cy="843.7" r="2.85"/>
<circle cx="196.5" cy="843.7" r="2.85"/>
<circle cx="198.0" cy="843.7" r="2.85"/>
<circle cx="199.6" cy="843.7" r="2.85"/>
<circle cx="201.2" cy="843.7" r="2.85"/>
<circle cx="202.8" cy="843.7" r="2.85"/>
<circle cx="204.4" cy="843.7" r="2.85"/>
<circle cx="205.9" cy="843.7" r="2.85"/>
<circle cx="207.5" cy="843.7" r="2.85"/>
<circle cx="209.1" cy="843.7" r="2.85"/>
<circle cx="210.7" cy="843.7" r="2.85"/>
<circle cx="212.2" cy="843.7" r="2.85"/>
<circle cx="213.8" cy="843.7" r="2.85"/>
<circle cx="215.4" cy="843.7" r="2.85"/>
<circle cx="217.0" cy="843.7" r="2.85"/>
<circle cx="218.6" cy="843.7" r="2.85"/>
<circle cx="220.1" cy="843.7" r="2.85"/>
<circle cx="221.7" cy="843.7" r="2.85"/>
<circle cx="223.3" cy="843.7" r="2.85"/>
<circle cx="224.9" cy="843.7" r="2.85"/>
<circle cx="226.4" cy="843.7" r="2.85"/>
<circle cx="228.0" cy="843.7" r="2.85"/>
<circle cx="229.6" cy="843.7" r="2.85"/>
<circle cx="151.3" cy="898.2" r="2.85"/>
<circle cx="152.8" cy="898.2" r="2.85"/>
<circle cx="154.4" cy="898.2" r="2.85"/>
<circle cx="155.9" cy="898.2" r="2.85"/>
<circle cx="157.5" cy="898.2" r="2.85"/>
<circle cx="159.0" cy="898.2" r="2.85"/>
<circle cx="160.6" cy="898.2" r="2.85"/>
<circle cx="162.1" cy="898.2" r="2.85"/>
<circle cx="163.7" cy="898.2" r="2.85"/>
<circle cx="165.2" cy="898.2" r="2.85"/>
<circle cx="166.8" cy="898.2" r="2.85"/>
<circle cx="168.3" cy="898.2" r="2.85"/>
<circle cx="169.9" cy="898.2" r="2.85"/>
<circle cx="171.4" cy="898.2" r="2.85"/>
<circle cx="172.9" cy="898.2" r="2.85"/>
<circle cx="174.5" cy="898.2" r="2.85"/>
<circle cx="176.0" cy="898.2" r="2.85"/>
<circle cx="177.6" cy="898.2" r="2.85"/>
<circle cx="179.1" cy="898.2" r="2.85"/>
<circle cx="180.7" cy="898.2" r="2.85"/>
<circle cx="182.2" cy="898.2" r="2.85"/>
<circle cx="183.8" cy="898.2" r="2.85"/>
<circle cx="185.3" cy="898.2" r="2.85"/>
<circle cx="186.9" cy="898.2" r="2.85"/>
<circle cx="188.4" cy="898.2" r="2.85"/>
<circle cx="189.9" cy="898.2" r="2.85"/>
<circle cx="191.5" cy="898.2" r="2.85"/>
<circle cx="193.0" cy="898.2" r="2.85"/>
<circle cx="194.6" cy="898.2" r="2.85"/>
<circle cx="196.1" cy="898.2" r="2.85"/>
<circle cx="197.7" cy="898.2" r="2.85"/>
<circle cx="199.2" cy="898.2" r="2.85"/>
<circle cx="200.8" cy="898.2" r="2.85"/>
<circle cx="202.3" cy="898.2" r="2.85"/>
<circle cx="203.9" cy="898.2" r="2.85"/>
<circle cx="205.4" cy="898.2" r="2.85"/>
<circle cx="207.0" cy="898.2" r="2.85"/>
<circle cx="208.5" cy="898.2" r="2.85"/>
<circle cx="210.0" cy="898.2" r="2.85"/>
<circle cx="211.6" cy="898.2" r="2.85"/>
<circle cx="213.1" cy="898.2" r="2.85"/>
<circle cx="214.7" cy="898.2" r="2.85"/>
<circle cx="216.2" cy="898.2" r="2.85"/>
<circle cx="217.8" cy="898.2" r="2.85"/>
<circle cx="219.3" cy="898.2" r="2.85"/>
<circle cx="220.9" cy="898.2" r="2.85"/>
<circle cx="222.4" cy="898.2" r="2.85"/>
<circle cx="224.0" cy="898.2" r="2.85"/>
<circle cx="225.5" cy="898.2" r="2.85"/>
<circle cx="227.1" cy="898.2" r="2.85"/>
<circle cx="228.6" cy="898.2" r="2.85"/>
<circle cx="230.1" cy="898.2" r="2.85"/>
<circle cx="231.7" cy="898.2" r="2.85"/>
<circle cx="233.2" cy="898.2" r="2.85"/>
<circle cx="234.8" cy="898.2" r="2.85"/>
<circle cx="236.3" cy="898.2" r="2.85"/>
<circle cx="237.9" cy="898.2" r="2.85"/>
<circle cx="239.4" cy="898.2" r="2.85"/>
<circle cx="241.0" cy="898.2" r="2.85"/>
<circle cx="242.5" cy="898.2" r="2.85"/>
<circle cx="244.1" cy="898.2" r="2.85"/>
<circle cx="245.6" cy="898.2" r="2.85"/>
<circle cx="247.1" cy="898.2" r="2.85"/>
<circle cx="248.7" cy="898.2" r="2.85"/>
<circle cx="250.2" cy="898.2" r="2.85"/>
<circle cx="251.8" cy="898.2" r="2.85"/>
<circle cx="253.3" cy="898.2" r="2.85"/>
<circle cx="254.9" cy="898.2" r="2.85"/>
<circle cx="256.4" cy="898.2" r="2.85"/>
<circle cx="258.0" cy="898.2" r="2.85"/>
<circle cx="259.5" cy="898.2" r="2.85"/>
<circle cx="261.1" cy="898.2" r="2.85"/>
<circle cx="262.6" cy="898.2" r="2.85"/>
<circle cx="264.2" cy="898.2" r="2.85"/>
<circle cx="265.7" cy="898.2" r="2.85"/>
<circle cx="355.6" cy="843.7" r="2.85"/>
<circle cx="357.1" cy="843.7" r="2.85"/>
<circle cx="358.7" cy="843.7" r="2.85"/>
<circle cx="360.2" cy="843.7" r="2.85"/>
<circle cx="361.8" cy="843.7" r="2.85"/>
<circle cx="363.3" cy="843.7" r="2.85"/>
<circle cx="364.8" cy="843.7" r="2.85"/>
<circle cx="366.4" cy="843.7" r="2.85"/>
<circle cx="367.9" cy="843.7" r="2.85"/>
<circle cx="369.4" cy="843.7" r="2.85"/>
<circle cx="371.0" cy="843.7" r="2.85"/>
<circle cx="372.5" cy="843.7" r="2.85"/>
<circle cx="374.1" cy="843.7" r="2.85"/>
<circle cx="375.6" cy="843.7" r="2.85"/>
<circle cx="377.1" cy="843.7" r="2.85"/>
<circle cx="378.7" cy="843.7" r="2.85"/>
<circle cx="380.2" cy="843.7" r="2.85"/>
<circle cx="381.7" cy="843.7" r="2.85"/>
<circle cx="383.3" cy="843.7" r="2.85"/>
<circle cx="384.8" cy="843.7" r="2.85"/>
<circle cx="386.4" cy="843.7" r="2.85"/>
<circle cx="387.9" cy="843.7" r="2.85"/>
<circle cx="283.5" cy="898.2" r="2.85"/>
<circle cx="285.0" cy="898.2" r="2.85"/>
<circle cx="286.6" cy="898.2" r="2.85"/>
<circle cx="288.1" cy="898.2" r="2.85"/>
<circle cx="289.7" cy="898.2" r="2.85"/>
<circle cx="291.2" cy="898.2" r="2.85"/>
<circle cx="292.8" cy="898.2" r="2.85"/>
<circle cx="294.3" cy="898.2" r="2.85"/>
<circle cx="295.9" cy="898.2" r="2.85"/>
<circle cx="297.4" cy="898.2" r="2.85"/>
<circle cx="298.9" cy="898.2" r="2.85"/>
<circle cx="300.5" cy="898.2" r="2.85"/>
<circle cx="302.0" cy="898.2" r="2.85"/>
<circle cx="303.6" cy="898.2" r="2.85"/>
<circle cx="305.1" cy="898.2" r="2.85"/>
<circle cx="306.7" cy="898.2" r="2.85"/>
<circle cx="308.2" cy="898.2" r="2.85"/>
<circle cx="309.8" cy="898.2" r="2.85"/>
<circle cx="311.3" cy="898.2" r="2.85"/>
<circle cx="312.9" cy="898.2" r="2.85"/>
<circle cx="314.4" cy="898.2" r="2.85"/>
<circle cx="315.9" cy="898.2" r="2.85"/>
<circle cx="317.5" cy="898.2" r="2.85"/>
<circle cx="319.0" cy="898.2" r="2.85"/>
<circle cx="320.6" cy="898.2" r="2.85"/>
<circle cx="322.1" cy="898.2" r="2.85"/>
<circle cx="323.7" cy="898.2" r="2.85"/>
<circle cx="325.2" cy="898.2" r="2.85"/>
<circle cx="326.8" cy="898.2" r="2.85"/>
<circle cx="328.3" cy="898.2" r="2.85"/>
<circle cx="329.8" cy="898.2" r="2.85"/>
<circle cx="331.4" cy="898.2" r="2.85"/>
<circle cx="332.9" cy="898.2" r="2.85"/>
<circle cx="334.5" cy="898.2" r="2.85"/>
<circle cx="336.0" cy="898.2" r="2.85"/>
<circle cx="337.6" cy="898.2" r="2.85"/>
<circle cx="339.1" cy="898.2" r="2.85"/>
<circle cx="340.7" cy="898.2" r="2.85"/>
<circle cx="342.2" cy="898.2" r="2.85"/>
<circle cx="343.7" cy="898.2" r="2.85"/>
<circle cx="345.3" cy="898.2" r="2.85"/>
<circle cx="346.8" cy="898.2" r="2.85"/>
<circle cx="348.4" cy="898.2" r="2.85"/>
<circle cx="349.9" cy="898.2" r="2.85"/>
<circle cx="351.5" cy="898.2" r="2.85"/>
<circle cx="353.0" cy="898.2" r="2.85"/>
<circle cx="354.6" cy="898.2" r="2.85"/>
<circle cx="356.1" cy="898.2" r="2.85"/>
<circle cx="357.6" cy="898.2" r="2.85"/>
<circle cx="359.2" cy="898.2" r="2.85"/>
<circle cx="360.7" cy="898.2" r="2.85"/>
<circle cx="362.3" cy="898.2" r="2.85"/>
<circle cx="363.8" cy="898.2" r="2.85"/>
<circle cx="365.4" cy="898.2" r="2.85"/>
<circle cx="366.9" cy="898.2" r="2.85"/>
<circle cx="368.5" cy="898.2" r="2.85"/>
<circle cx="370.0" cy="898.2" r="2.85"/>
<circle cx="371.6" cy="898.2" r="2.85"/>
<circle cx="373.1" cy="898.2" r="2.85"/>
<circle cx="374.6" cy="898.2" r="2.85"/>
<circle cx="376.2" cy="898.2" r="2.85"/>
<circle cx="377.7" cy="898.2" r="2.85"/>
<circle cx="379.3" cy="898.2" r="2.85"/>
<circle cx="380.8" cy="898.2" r="2.85"/>
<circle cx="382.4" cy="898.2" r="2.85"/>
<circle cx="383.9" cy="898.2" r="2.85"/>
<circle cx="385.5" cy="898.2" r="2.85"/>
<circle cx="387.0" cy="898.2" r="2.85"/>
<circle cx="388.5" cy="898.2" r="2.85"/>
<circle cx="390.1" cy="898.2" r="2.85"/>
<circle cx="391.6" cy="898.2" r="2.85"/>
<circle cx="393.2" cy="898.2" r="2.85"/>
<circle cx="394.7" cy="898.2" r="2.85"/>
<circle cx="396.3" cy="898.2" r="2.85"/>
<circle cx="397.8" cy="898.2" r="2.85"/>
<circle cx="399.4" cy="898.2" r="2.85"/>
<circle cx="400.9" cy="898.2" r="2.85"/>
<circle cx="402.4" cy="898.2" r="2.85"/>
<circle cx="404.0" cy="898.2" r="2.85"/>
<circle cx="405.5" cy="898.2" r="2.85"/>
<circle cx="407.1" cy="898.2" r="2.85"/>
<circle cx="408.6" cy="898.2" r="2.85"/>
<circle cx="410.2" cy="898.2" r="2.85"/>
<circle cx="411.7" cy="898.2" r="2.85"/>
<circle cx="413.3" cy="898.2" r="2.85"/>
<circle cx="414.8" cy="898.2" r="2.85"/>
<circle cx="416.3" cy="898.2" r="2.85"/>
<circle cx="417.9" cy="898.2" r="2.85"/>
<circle cx="419.4" cy="898.2" r="2.85"/>
<circle cx="421.0" cy="898.2" r="2.85"/>
<circle cx="422.5" cy="898.2" r="2.85"/>
<circle cx="424.1" cy="898.2" r="2.85"/>
<circle cx="425.6" cy="898.2" r="2.85"/>
<circle cx="427.2" cy="898.2" r="2.85"/>
<circle cx="428.7" cy="898.2" r="2.85"/>
<circle cx="430.3" cy="898.2" r="2.85"/>
<circle cx="431.8" cy="898.2" r="2.85"/>
<circle cx="433.3" cy="898.2" r="2.85"/>
<circle cx="434.9" cy="898.2" r="2.85"/>
<circle cx="436.4" cy="898.2" r="2.85"/>
<circle cx="438.0" cy="898.2" r="2.85"/>
<circle cx="439.5" cy="898.2" r="2.85"/>
<circle cx="441.1" cy="898.2" r="2.85"/>
<circle cx="442.6" cy="898.2" r="2.85"/>
<circle cx="444.2" cy="898.2" r="2.85"/>
<circle cx="445.7" cy="898.2" r="2.85"/>
<circle cx="580.3" cy="637.1" r="2.85"/>
<circle cx="580.3" cy="648.7" r="2.85"/>
<circle cx="580.3" cy="674.0" r="2.85"/>
<circle cx="579.7" cy="680.7" r="2.85"/>
<circle cx="583.7" cy="679.5" r="2.85"/>
<circle cx="579.7" cy="687.2" r="2.85"/>
<circle cx="582.2" cy="690.2" r="2.85"/>
<circle cx="580.3" cy="694.5" r="2.85"/>
<circle cx="579.7" cy="697.5" r="2.85"/>
<circle cx="579.7" cy="716.2" r="2.85"/>
<circle cx="582.8" cy="718.3" r="2.85"/>
<circle cx="580.3" cy="721.4" r="2.85"/>
<circle cx="580.3" cy="726.0" r="2.85"/>
<circle cx="580.3" cy="733.0" r="2.85"/>
<circle cx="580.6" cy="748.0" r="2.85"/>
<circle cx="580.3" cy="752.0" r="2.85"/>
<circle cx="745.3" cy="611.1" r="2.85"/>
<circle cx="745.3" cy="670.7" r="2.85"/>
<circle cx="745.3" cy="683.2" r="2.85"/>
<circle cx="745.3" cy="703.4" r="2.85"/>
<circle cx="748.6" cy="717.4" r="2.85"/>
<circle cx="745.3" cy="719.9" r="2.85"/>
<circle cx="745.3" cy="788.0" r="2.85"/>
<circle cx="575.1" cy="787.8" r="2.85"/>
<circle cx="576.6" cy="787.8" r="2.85"/>
<circle cx="578.1" cy="787.8" r="2.85"/>
<circle cx="579.6" cy="787.8" r="2.85"/>
<circle cx="581.1" cy="787.8" r="2.85"/>
<circle cx="582.7" cy="787.8" r="2.85"/>
<circle cx="584.2" cy="787.8" r="2.85"/>
<circle cx="585.7" cy="787.8" r="2.85"/>
<circle cx="587.2" cy="787.8" r="2.85"/>
<circle cx="588.7" cy="787.8" r="2.85"/>
<circle cx="578.1" cy="842.4" r="2.85"/>
<circle cx="579.8" cy="842.4" r="2.85"/>
<circle cx="581.5" cy="842.4" r="2.85"/>
<circle cx="583.3" cy="842.4" r="2.85"/>
<circle cx="585.0" cy="842.4" r="2.85"/>
<circle cx="522.3" cy="896.8" r="2.85"/>
<circle cx="523.9" cy="896.8" r="2.85"/>
<circle cx="525.4" cy="896.8" r="2.85"/>
<circle cx="527.0" cy="896.8" r="2.85"/>
<circle cx="528.5" cy="896.8" r="2.85"/>
<circle cx="530.1" cy="896.8" r="2.85"/>
<circle cx="531.6" cy="896.8" r="2.85"/>
<circle cx="533.2" cy="896.8" r="2.85"/>
<circle cx="534.7" cy="896.8" r="2.85"/>
<circle cx="536.3" cy="896.8" r="2.85"/>
<circle cx="537.8" cy="896.8" r="2.85"/>
<circle cx="539.4" cy="896.8" r="2.85"/>
<circle cx="540.9" cy="896.8" r="2.85"/>
<circle cx="542.5" cy="896.8" r="2.85"/>
<circle cx="544.0" cy="896.8" r="2.85"/>
<circle cx="545.6" cy="896.8" r="2.85"/>
<circle cx="547.1" cy="896.8" r="2.85"/>
<circle cx="548.7" cy="896.8" r="2.85"/>
<circle cx="550.2" cy="896.8" r="2.85"/>
<circle cx="551.8" cy="896.8" r="2.85"/>
<circle cx="553.3" cy="896.8" r="2.85"/>
<circle cx="554.9" cy="896.8" r="2.85"/>
<circle cx="556.4" cy="896.8" r="2.85"/>
<circle cx="558.0" cy="896.8" r="2.85"/>
<circle cx="559.5" cy="896.8" r="2.85"/>
<circle cx="561.1" cy="896.8" r="2.85"/>
<circle cx="562.6" cy="896.8" r="2.85"/>
<circle cx="564.2" cy="896.8" r="2.85"/>
<circle cx="565.7" cy="896.8" r="2.85"/>
<circle cx="567.3" cy="896.8" r="2.85"/>
<circle cx="568.8" cy="896.8" r="2.85"/>
<circle cx="570.4" cy="896.8" r="2.85"/>
<circle cx="571.9" cy="896.8" r="2.85"/>
<circle cx="573.5" cy="896.8" r="2.85"/>
<circle cx="575.0" cy="896.8" r="2.85"/>
<circle cx="576.6" cy="896.8" r="2.85"/>
<circle cx="578.1" cy="896.8" r="2.85"/>
<circle cx="579.7" cy="896.8" r="2.85"/>
<circle cx="581.2" cy="896.8" r="2.85"/>
<circle cx="582.8" cy="896.8" r="2.85"/>
<circle cx="584.3" cy="896.8" r="2.85"/>
<circle cx="585.9" cy="896.8" r="2.85"/>
<circle cx="587.4" cy="896.8" r="2.85"/>
<circle cx="589.0" cy="896.8" r="2.85"/>
<circle cx="590.5" cy="896.8" r="2.85"/>
<circle cx="592.1" cy="896.8" r="2.85"/>
<circle cx="593.6" cy="896.8" r="2.85"/>
<circle cx="595.2" cy="896.8" r="2.85"/>
<circle cx="596.7" cy="896.8" r="2.85"/>
<circle cx="598.3" cy="896.8" r="2.85"/>
<circle cx="599.8" cy="896.8" r="2.85"/>
<circle cx="601.4" cy="896.8" r="2.85"/>
<circle cx="602.9" cy="896.8" r="2.85"/>
<circle cx="604.5" cy="896.8" r="2.85"/>
<circle cx="606.0" cy="896.8" r="2.85"/>
<circle cx="607.6" cy="896.8" r="2.85"/>
<circle cx="609.1" cy="896.8" r="2.85"/>
<circle cx="610.7" cy="896.8" r="2.85"/>
<circle cx="612.2" cy="896.8" r="2.85"/>
<circle cx="613.8" cy="896.8" r="2.85"/>
<circle cx="615.3" cy="896.8" r="2.85"/>
<circle cx="616.9" cy="896.8" r="2.85"/>
<circle cx="618.4" cy="896.8" r="2.85"/>
<circle cx="620.0" cy="896.8" r="2.85"/>
<circle cx="621.5" cy="896.8" r="2.85"/>
<circle cx="623.1" cy="896.8" r="2.85"/>
<circle cx="624.6" cy="896.8" r="2.85"/>
<circle cx="626.2" cy="896.8" r="2.85"/>
<circle cx="627.7" cy="896.8" r="2.85"/>
<circle cx="629.3" cy="896.8" r="2.85"/>
<circle cx="630.8" cy="896.8" r="2.85"/>
<circle cx="632.4" cy="896.8" r="2.85"/>
<circle cx="633.9" cy="896.8" r="2.85"/>
<circle cx="635.5" cy="896.8" r="2.85"/>
<circle cx="637.0" cy="896.8" r="2.85"/>
<circle cx="638.6" cy="896.8" r="2.85"/>
<circle cx="640.1" cy="896.8" r="2.85"/>
<circle cx="641.7" cy="896.8" r="2.85"/>
<circle cx="740.3" cy="842.4" r="2.85"/>
<circle cx="741.9" cy="842.4" r="2.85"/>
<circle cx="743.6" cy="842.4" r="2.85"/>
<circle cx="745.2" cy="842.4" r="2.85"/>
<circle cx="746.9" cy="842.4" r="2.85"/>
<circle cx="748.6" cy="842.4" r="2.85"/>
<circle cx="750.2" cy="842.4" r="2.85"/>
<circle cx="687.1" cy="896.8" r="2.85"/>
<circle cx="688.6" cy="896.8" r="2.85"/>
<circle cx="690.2" cy="896.8" r="2.85"/>
<circle cx="691.7" cy="896.8" r="2.85"/>
<circle cx="693.3" cy="896.8" r="2.85"/>
<circle cx="694.8" cy="896.8" r="2.85"/>
<circle cx="696.4" cy="896.8" r="2.85"/>
<circle cx="697.9" cy="896.8" r="2.85"/>
<circle cx="699.5" cy="896.8" r="2.85"/>
<circle cx="701.0" cy="896.8" r="2.85"/>
<circle cx="702.5" cy="896.8" r="2.85"/>
<circle cx="704.1" cy="896.8" r="2.85"/>
<circle cx="705.6" cy="896.8" r="2.85"/>
<circle cx="707.2" cy="896.8" r="2.85"/>
<circle cx="708.7" cy="896.8" r="2.85"/>
<circle cx="710.3" cy="896.8" r="2.85"/>
<circle cx="711.8" cy="896.8" r="2.85"/>
<circle cx="713.4" cy="896.8" r="2.85"/>
<circle cx="714.9" cy="896.8" r="2.85"/>
<circle cx="716.4" cy="896.8" r="2.85"/>
<circle cx="718.0" cy="896.8" r="2.85"/>
<circle cx="719.5" cy="896.8" r="2.85"/>
<circle cx="721.1" cy="896.8" r="2.85"/>
<circle cx="722.6" cy="896.8" r="2.85"/>
<circle cx="724.2" cy="896.8" r="2.85"/>
<circle cx="725.7" cy="896.8" r="2.85"/>
<circle cx="727.2" cy="896.8" r="2.85"/>
<circle cx="728.8" cy="896.8" r="2.85"/>
<circle cx="730.3" cy="896.8" r="2.85"/>
<circle cx="731.9" cy="896.8" r="2.85"/>
<circle cx="733.4" cy="896.8" r="2.85"/>
<circle cx="735.0" cy="896.8" r="2.85"/>
<circle cx="736.5" cy="896.8" r="2.85"/>
<circle cx="738.1" cy="896.8" r="2.85"/>
<circle cx="739.6" cy="896.8" r="2.85"/>
<circle cx="741.1" cy="896.8" r="2.85"/>
<circle cx="742.7" cy="896.8" r="2.85"/>
<circle cx="744.2" cy="896.8" r="2.85"/>
<circle cx="745.8" cy="896.8" r="2.85"/>
<circle cx="747.3" cy="896.8" r="2.85"/>
<circle cx="748.9" cy="896.8" r="2.85"/>
<circle cx="750.4" cy="896.8" r="2.85"/>
<circle cx="752.0" cy="896.8" r="2.85"/>
<circle cx="753.5" cy="896.8" r="2.85"/>
<circle cx="755.0" cy="896.8" r="2.85"/>
<circle cx="756.6" cy="896.8" r="2.85"/>
<circle cx="758.1" cy="896.8" r="2.85"/>
<circle cx="759.7" cy="896.8" r="2.85"/>
<circle cx="761.2" cy="896.8" r="2.85"/>
<circle cx="762.8" cy="896.8" r="2.85"/>
<circle cx="764.3" cy="896.8" r="2.85"/>
<circle cx="765.9" cy="896.8" r="2.85"/>
<circle cx="767.4" cy="896.8" r="2.85"/>
<circle cx="768.9" cy="896.8" r="2.85"/>
<circle cx="770.5" cy="896.8" r="2.85"/>
<circle cx="772.0" cy="896.8" r="2.85"/>
<circle cx="773.6" cy="896.8" r="2.85"/>
<circle cx="775.1" cy="896.8" r="2.85"/>
<circle cx="776.7" cy="896.8" r="2.85"/>
<circle cx="778.2" cy="896.8" r="2.85"/>
<circle cx="779.7" cy="896.8" r="2.85"/>
<circle cx="781.3" cy="896.8" r="2.85"/>
<circle cx="782.8" cy="896.8" r="2.85"/>
<circle cx="784.4" cy="896.8" r="2.85"/>
<circle cx="785.9" cy="896.8" r="2.85"/>
<circle cx="787.5" cy="896.8" r="2.85"/>
<circle cx="789.0" cy="896.8" r="2.85"/>
<circle cx="790.6" cy="896.8" r="2.85"/>
<circle cx="792.1" cy="896.8" r="2.85"/>
<circle cx="793.6" cy="896.8" r="2.85"/>
<circle cx="795.2" cy="896.8" r="2.85"/>
<circle cx="796.7" cy="896.8" r="2.85"/>
<circle cx="798.3" cy="896.8" r="2.85"/>
<circle cx="799.8" cy="896.8" r="2.85"/>
<circle cx="801.4" cy="896.8" r="2.85"/>
<circle cx="802.9" cy="896.8" r="2.85"/>
<circle cx="804.5" cy="896.8" r="2.85"/>
<circle cx="806.0" cy="896.8" r="2.85"/>
</g>
<rect x="443.2" y="888" width="20" height="20" fill="#ffffff"/>
<g>
<text x="51.5" y="137.2" font-family="Liberation Serif" font-size="19.5" font-weight="normal" textLength="44.6" lengthAdjust="spacingAndGlyphs">1E+5</text>
<text x="51.8" y="264.6" font-family="Liberation Serif" font-size="19.5" font-weight="normal" textLength="44.8" lengthAdjust="spacingAndGlyphs">1E+3</text>
<text x="52.8" y="291.2" font-family="Liberation Serif" font-size="19.5" font-weight="normal" textLength="43.1" lengthAdjust="spacingAndGlyphs">LOQ</text>
<text x="56.4" y="389.4" font-family="Liberation Serif" font-size="19.5" font-weight="normal" textLength="40.5" lengthAdjust="spacingAndGlyphs">LOD</text>
<text x="68.9" y="450.3" font-family="Liberation Serif" font-size="19.5" font-weight="normal" textLength="30.7" lengthAdjust="spacingAndGlyphs">ND</text>
<text x="49.6" y="520.6" font-family="Liberation Serif" font-size="18.4" font-weight="normal" textLength="44.7" lengthAdjust="spacingAndGlyphs">1E+7</text>
<text x="49.6" y="629.5" font-family="Liberation Serif" font-size="18.4" font-weight="normal" textLength="44.7" lengthAdjust="spacingAndGlyphs">1E+5</text>
<text x="49.6" y="739.3" font-family="Liberation Serif" font-size="18.4" font-weight="normal" textLength="44.7" lengthAdjust="spacingAndGlyphs">1E+3</text>
<text x="51.4" y="764.0" font-family="Liberation Serif" font-size="18.4" font-weight="normal" textLength="42.5" lengthAdjust="spacingAndGlyphs">LOQ</text>
<text x="54.0" y="848.3" font-family="Liberation Serif" font-size="18.4" font-weight="normal" textLength="42.1" lengthAdjust="spacingAndGlyphs">LOD</text>
<text x="67.8" y="902.8" font-family="Liberation Serif" font-size="18.4" font-weight="normal" textLength="28.6" lengthAdjust="spacingAndGlyphs">ND</text>
<text x="163.8" y="952.8" font-family="Liberation Serif" font-size="31.5" font-weight="normal" textLength="94.2" lengthAdjust="spacing">Plasma</text>
<text x="336.4" y="952.8" font-family="Liberation Serif" font-size="31.5" font-weight="normal" textLength="81.4" lengthAdjust="spacing">Saliva</text>
<text x="531.4" y="952.8" font-family="Liberation Serif" font-size="31.5" font-weight="normal" textLength="94.0" lengthAdjust="spacing">Plasma</text>
<text x="706.4" y="952.8" font-family="Liberation Serif" font-size="31.5" font-weight="normal" textLength="82.3" lengthAdjust="spacing">Saliva</text>
<text x="388.8" y="985.2" font-family="Liberation Serif" font-size="31" font-weight="bold" textLength="183.1" lengthAdjust="spacingAndGlyphs">Sample Type</text>
<text x="125.2" y="58.2" font-family="Liberation Sans" font-size="32.5" font-weight="bold">A</text>
<text x="500.0" y="58.2" font-family="Liberation Sans" font-size="32.5" font-weight="bold">B</text>
<text x="125.6" y="517.4" font-family="Liberation Sans" font-size="32.5" font-weight="bold">C</text>
<text x="499.7" y="517.4" font-family="Liberation Sans" font-size="32.5" font-weight="bold">D</text>
<text x="197.2" y="35.2" font-family="Liberation Serif" font-size="37.5">2</text>
<text x="215.6" y="22.6" font-family="Liberation Serif" font-size="23.5" textLength="24.2" lengthAdjust="spacingAndGlyphs">nd</text>
<text x="250.0" y="35.2" font-family="Liberation Serif" font-size="37.5" textLength="142.5" lengthAdjust="spacingAndGlyphs">Trimester</text>
<text x="575.6" y="34.6" font-family="Liberation Serif" font-size="37.5">3</text>
<text x="593.2" y="22.0" font-family="Liberation Serif" font-size="23.5" textLength="20.7" lengthAdjust="spacingAndGlyphs">rd</text>
<text x="624.8" y="34.6" font-family="Liberation Serif" font-size="37.5" textLength="140.7" lengthAdjust="spacingAndGlyphs">Trimester</text>
<text transform="translate(30.6,257.2) rotate(-90)" font-family="Liberation Serif" font-size="33" font-weight="bold" text-anchor="middle" textLength="220" lengthAdjust="spacingAndGlyphs">TTV copies/mL</text>
<text transform="translate(30.6,674.5) rotate(-90)" font-family="Liberation Serif" font-size="33" font-weight="bold" text-anchor="middle" textLength="251.5" lengthAdjust="spacingAndGlyphs">TTMV copies/mL</text>
</g>
</svg>
</body></html>
